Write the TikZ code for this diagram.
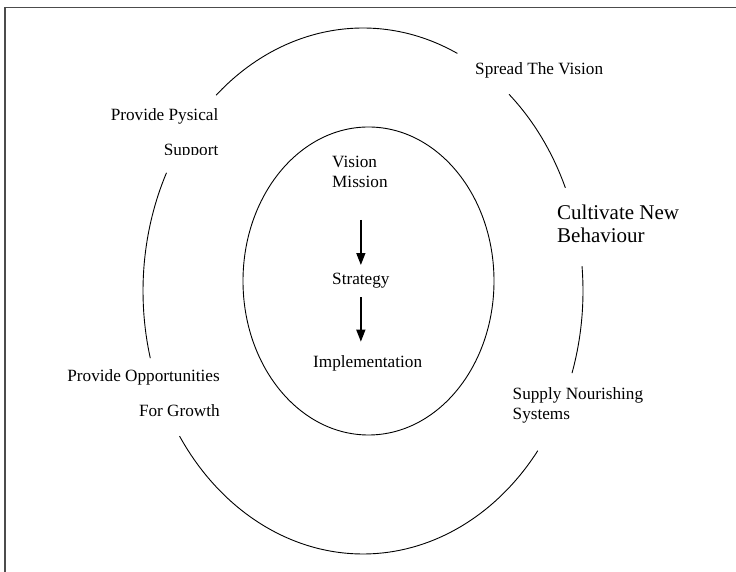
\documentclass[tikz,border=0pt]{standalone}
\usepackage{fontspec}
\setmainfont{Liberation Serif}
\usetikzlibrary{arrows.meta}

\begin{document}
\begin{tikzpicture}[x=1pt,y=1pt,
  txt/.style={inner sep=0pt,font=\fontsize{17.2}{20.5}\selectfont},
  bigtxt/.style={inner sep=0pt,font=\fontsize{21}{23}\selectfont},
  ring/.style={line width=0.9pt},
  down/.style={line width=1.4pt,-{Triangle[length=12pt,width=9pt]}}]

\clip (0,0) rectangle (736,572) ;
\draw [line width=1.5pt, gray!60!black] (5,-20) rectangle (760,564.7) ;

\draw [ring] (368.5,291) ellipse [x radius=125.5, y radius=154] ;

\draw [ring] (363,281) ++(64.6:220 and 263) arc [start angle=64.6, end angle=131.9, x radius=220, y radius=263] ;
\draw [ring] (363,281) ++(23.1:220 and 263) arc [start angle=23.1, end angle=48.4, x radius=220, y radius=263] ;
\draw [ring] (363,281) ++(-18.2:220 and 263) arc [start angle=-18.2, end angle=5.4, x radius=220, y radius=263] ;
\draw [ring] (363,281) ++(-146.5:220 and 263) arc [start angle=-146.5, end angle=-37.4, x radius=220, y radius=263] ;
\draw [ring] (363,281) ++(153.3:220 and 263) arc [start angle=153.3, end angle=194.8, x radius=220, y radius=263] ;

\node [txt, anchor=base west] (spread) at (475,497) {Spread The Vision} ;
\node [bigtxt, anchor=base west, align=left] (cultivate) at (557,329) {Cultivate New\\Behaviour} ;
\node [txt, anchor=base west, align=left] (supply) at (512.5,152) {Supply Nourishing\\Systems} ;
\node [txt, anchor=base east, align=right] (opport) at (220,155) {Provide Opportunities\\[14.5pt]For Growth} ;
\begin{scope}
\clip (0,417) rectangle (736,572) ;
\node [txt, anchor=base east, align=right] (pysical) at (218.5,416) {Provide Pysical\\[14.5pt]Support} ;
\end{scope}

\node [txt, anchor=base west, align=left] (mission) at (332,384) {Vision\\Mission} ;
\node [txt, anchor=base west] (strategy) at (332,287) {Strategy} ;
\node [txt, anchor=base west] (impl) at (313,204) {Implementation} ;

\draw [down, shorten <=31.5pt, shorten >=8.4pt] (strategy.north |- mission.south) -- (strategy.north) ;
\draw [down, shorten <=8.2pt, shorten >=14.2pt] (strategy.south) -- (strategy.south |- impl.north) ;
\end{tikzpicture}
\end{document}
